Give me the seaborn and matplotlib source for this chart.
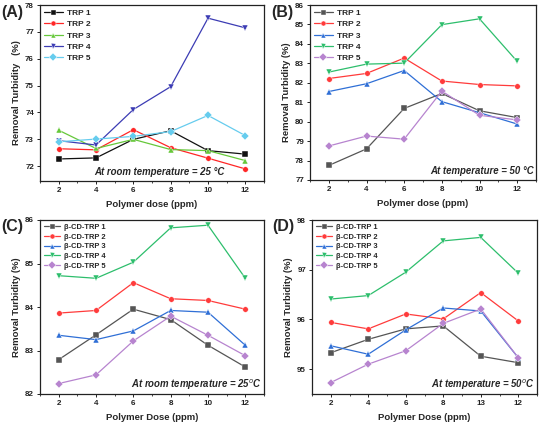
import numpy as np
import pandas as pd
import seaborn as sns
import matplotlib
matplotlib.use("Agg")
import matplotlib.pyplot as plt
from matplotlib.ticker import MultipleLocator, FixedLocator

sns.set_style("ticks")
plt.rcParams['font.family'] = ['Liberation Sans', 'DejaVu Sans']

doses = [2, 4, 6, 8, 10, 12]
xtick_labels_abc = ["2", "4", "6", "8", "10", "12"]
xtick_labels_d = ["2", "4", "6", "8", "13", "12"]

# Panel A: room temperature, TRP
a_names = ["TRP 1", "TRP 2", "TRP 3", "TRP 4", "TRP 5"]
a_trp1 = [72.27, 72.31, 73.00, 73.32, 72.58, 72.45]
a_trp2 = [72.65, 72.61, 73.36, 72.69, 72.30, 71.90]
a_trp3 = [73.34, 72.66, 73.00, 72.62, 72.58, 72.21]
a_trp4 = [72.95, 72.79, 74.11, 74.96, 77.51, 77.15]
a_trp5 = [72.91, 73.01, 73.11, 73.29, 73.89, 73.14]

# Panel B: 50 C, TRP
b_names = ["TRP 1", "TRP 2", "TRP 3", "TRP 4", "TRP 5"]
b_trp1 = [77.75, 78.60, 80.68, 81.45, 80.56, 80.21]
b_trp2 = [82.22, 82.48, 83.27, 82.09, 81.91, 81.84]
b_trp3 = [81.55, 81.95, 82.63, 81.03, 80.46, 79.88]
b_trp4 = [82.55, 82.96, 83.01, 84.99, 85.29, 83.10]
b_trp5 = [78.75, 79.26, 79.10, 81.57, 80.33, 80.09]

# Panel C: room temperature, beta-CD-TRP
c_names = ["β-CD-TRP 1", "β-CD-TRP 2", "β-CD-TRP 3", "β-CD-TRP 4", "β-CD-TRP 5"]
c_trp1 = [82.79, 83.36, 83.95, 83.71, 83.12, 82.62]
c_trp2 = [83.86, 83.92, 84.56, 84.19, 84.15, 83.95]
c_trp3 = [83.35, 83.25, 83.45, 83.92, 83.88, 83.12]
c_trp4 = [84.72, 84.66, 85.03, 85.82, 85.88, 84.66]
c_trp5 = [82.24, 82.44, 83.22, 83.79, 83.35, 82.88]

# Panel D: 50 C, beta-CD-TRP
d_names = ["β-CD-TRP 1", "β-CD-TRP 2", "β-CD-TRP 3", "β-CD-TRP 4", "β-CD-TRP 5"]
d_trp1 = [95.33, 95.60, 95.81, 95.87, 95.26, 95.13]
d_trp2 = [95.94, 95.81, 96.11, 96.01, 96.54, 95.97]
d_trp3 = [95.47, 95.30, 95.79, 96.23, 96.17, 95.23]
d_trp4 = [96.41, 96.48, 96.95, 97.58, 97.65, 96.93]
d_trp5 = [94.73, 95.10, 95.37, 95.92, 96.21, 95.23]

colors_a = ["#111111", "#FF2626", "#66C83A", "#3C3CB4", "#66CCEE"]
colors_bcd = ["#555555", "#FF3B3B", "#2F6FD6", "#2DBE6C", "#B784CF"]
marker_list = ["s", "o", "^", "v", "D"]


def make_df(names, series):
    rows = []
    for n, vals in zip(names, series):
        for d, v in zip(doses, vals):
            rows.append({"dose": d, "value": v, "series": n})
    return pd.DataFrame(rows)


W, H = 545, 424
fig = plt.figure(figsize=(W / 100, H / 100), dpi=100)


def px_axes(l, t, r, b):
    return fig.add_axes([l / W, 1 - b / H, (r - l) / W, (b - t) / H])


panels = [
    dict(box=(40, 5, 264, 181), names=a_names,
         series=[a_trp1, a_trp2, a_trp3, a_trp4, a_trp5], colors=colors_a,
         ylim=(71.45, 78), yticks=[72, 73, 74, 75, 76, 77, 78],
         ylabel="Removal Turbidity   (%)", xlabel="Polymer dose (ppm)",
         note="At room temperature = 25 °C", note_x=0.535, note_ha="center",
         letter="(A)", lx=1, xt=xtick_labels_abc, leg_sp=0.42, leg_fs=6.0),
    dict(box=(310, 5, 536, 180), names=b_names,
         series=[b_trp1, b_trp2, b_trp3, b_trp4, b_trp5], colors=colors_bcd,
         ylim=(77, 86), yticks=list(range(77, 87)),
         ylabel="Removal Turbidity (%)", xlabel="Polymer dose (ppm)",
         note="At temperature = 50 °C", note_x=0.99, note_ha="right",
         letter="(B)", lx=271, xt=xtick_labels_abc, leg_sp=0.42, leg_fs=6.0),
    dict(box=(40, 220, 264, 394), names=c_names,
         series=[c_trp1, c_trp2, c_trp3, c_trp4, c_trp5], colors=colors_bcd,
         ylim=(82, 86), yticks=[82, 83, 84, 85, 86],
         ylabel="Removal Turbidity (%)", xlabel="Polymer Dose (ppm)",
         note="At room temperature = 25$^{o}$C", note_x=0.99, note_ha="right",
         letter="(C)", lx=1, xt=xtick_labels_abc, leg_sp=0.32, leg_fs=5.4),
    dict(box=(312, 220, 537, 394), names=d_names,
         series=[d_trp1, d_trp2, d_trp3, d_trp4, d_trp5], colors=colors_bcd,
         ylim=(94.5, 98), yticks=[95, 96, 97, 98],
         ylabel="Removal Turbidity (%)", xlabel="Polymer Dose (ppm)",
         note="At temperature = 50$^{o}$C", note_x=0.99, note_ha="right",
         letter="(D)", lx=272, xt=xtick_labels_d, leg_sp=0.32, leg_fs=5.4),
]

for p in panels:
    ax = px_axes(*p["box"])
    df = make_df(p["names"], p["series"])
    sns.lineplot(data=df, x="dose", y="value", hue="series", style="series",
                 hue_order=p["names"], style_order=p["names"],
                 palette=dict(zip(p["names"], p["colors"])),
                 markers=dict(zip(p["names"], marker_list)),
                 dashes=False, markersize=4, linewidth=0.9,
                 markeredgewidth=0.3, ax=ax)
    ax.set_xlim(1, 13)
    ax.set_ylim(*p["ylim"])
    ax.xaxis.set_major_locator(FixedLocator(doses))
    ax.set_xticklabels(p["xt"])
    ax.xaxis.set_minor_locator(MultipleLocator(1))
    ax.set_yticks(p["yticks"])
    ax.tick_params(axis="both", which="major", direction="out", length=2.5,
                   width=0.7, labelsize=5.8, pad=1.8, colors="#222222")
    ax.tick_params(axis="x", which="minor", direction="out", length=1.5, width=0.6)
    for lab in ax.get_xticklabels() + ax.get_yticklabels():
        lab.set_fontweight("bold")
    for s in ax.spines.values():
        s.set_visible(True)
        s.set_linewidth(0.9)
        s.set_color("#222222")
    ax.set_xlabel(p["xlabel"], fontsize=6.8, fontweight="bold", labelpad=4)
    ax.set_ylabel(p["ylabel"], fontsize=6.8, fontweight="bold", labelpad=3)
    h, l = ax.get_legend_handles_labels()
    ax.legend(h, l, loc="upper left", frameon=False,
              prop={"weight": "bold", "size": p["leg_fs"]},
              handlelength=2.2, handletextpad=0.5, labelspacing=p["leg_sp"],
              borderaxespad=0.2, borderpad=0.3, markerscale=0.9)
    ax.text(p["note_x"], 0.05, p["note"], transform=ax.transAxes,
            ha=p["note_ha"], va="center", fontsize=6.9, fontweight="bold",
            fontstyle="italic")
    l, t, r, b = p["box"]
    fig.text(p["lx"] / W, 1 - (t + 7) / H,
             p["letter"], fontsize=11.5, fontweight="bold", ha="left", va="center")

fig.savefig("out.png", dpi=100)
